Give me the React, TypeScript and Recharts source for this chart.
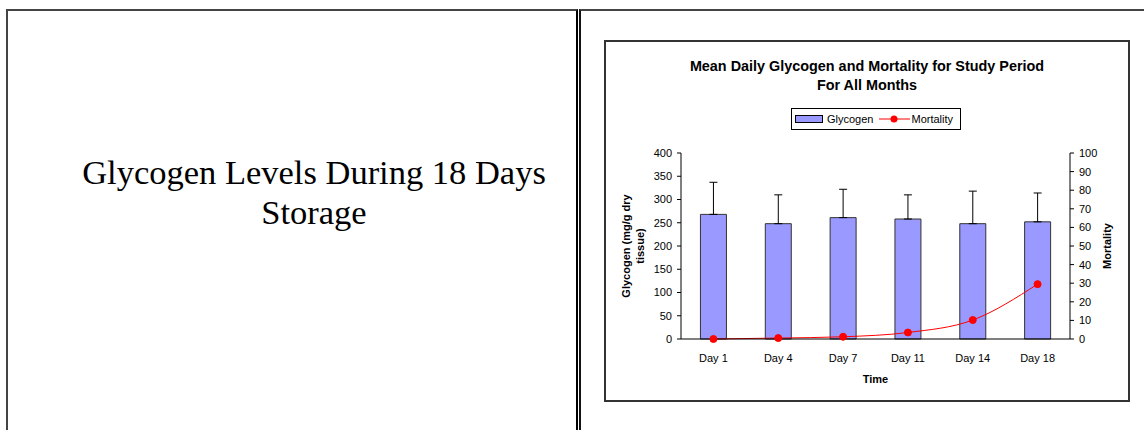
import React from 'react';
import { ComposedChart, Bar, Line, XAxis, YAxis, ErrorBar, Legend, Label } from 'recharts';

const days = ['Day 1', 'Day 4', 'Day 7', 'Day 11', 'Day 14', 'Day 18'];
const glycogen = [268, 248, 261, 258, 248, 252];
const glycogenErr = [69, 62, 61, 52, 70, 62];
const mortality = [0, 0.5, 1.2, 3.5, 10.2, 29.5];
const glycogenTicks = [0, 50, 100, 150, 200, 250, 300, 350, 400];
const mortalityTicks = [0, 10, 20, 30, 40, 50, 60, 70, 80, 90, 100];

const data = days.map((day, i) => ({
  day,
  glycogen: glycogen[i],
  err: [0, glycogenErr[i]],
  mortality: mortality[i],
}));

const FONT = "'Liberation Sans', Arial, Helvetica, sans-serif";
const BAR = '#9999FF';
const RED = '#FF0000';

const LeftAxisLabel = () => (
  <text
    fontFamily={FONT}
    fontSize={11}
    fontWeight="bold"
    fill="#000"
    textAnchor="middle"
    transform="translate(23.5,204) rotate(-90)"
  >
    <tspan x={0} y={0}>Glycogen (mg/g dry</tspan>
    <tspan x={0} y={14}>tissue)</tspan>
  </text>
);

const RightAxisLabel = () => (
  <text
    fontFamily={FONT}
    fontSize={11}
    fontWeight="bold"
    fill="#000"
    textAnchor="middle"
    transform="translate(505,204) rotate(-90)"
  >
    Mortality
  </text>
);

const renderLegend = (props: any) => {
  const payload: any[] = props.payload || [];
  return (
    <div
      style={{
        boxSizing: 'border-box',
        width: 170,
        height: 22,
        border: '1px solid #000',
        background: '#fff',
        display: 'flex',
        alignItems: 'center',
        paddingLeft: 3,
        fontFamily: FONT,
        fontSize: 11,
        color: '#000',
        whiteSpace: 'nowrap',
      }}
    >
      {payload.map((entry: any) =>
        entry.dataKey === 'glycogen' ? (
          <span key="g" style={{ display: 'flex', alignItems: 'center' }}>
            <svg width={28} height={8} style={{ display: 'block' }}>
              <rect x={0.5} y={0.5} width={27} height={7} fill={BAR} stroke="#000" />
            </svg>
            <span style={{ marginLeft: 4 }}>{entry.value}</span>
          </span>
        ) : (
          <span key="m" style={{ display: 'flex', alignItems: 'center', marginLeft: 6 }}>
            <svg width={31} height={8} style={{ display: 'block' }}>
              <line x1={0} y1={4} x2={31} y2={4} stroke={RED} strokeWidth={1} />
              <circle cx={15} cy={4} r={3.5} fill={RED} />
            </svg>
            <span style={{ marginLeft: 1 }}>{entry.value}</span>
          </span>
        )
      )}
    </div>
  );
};

export default function App() {
  return (
    <div
      style={{
        position: 'absolute',
        left: 0,
        top: 0,
        width: 1144,
        height: 430,
        overflow: 'hidden',
        background: '#fff',
      }}
    >
      {/* left panel frame */}
      <div
        style={{
          position: 'absolute',
          left: 6,
          top: 9,
          width: 572,
          height: 500,
          boxSizing: 'border-box',
          borderTop: '2px solid #444',
          borderLeft: '2px solid #444',
          borderRight: '2px solid #000',
        }}
      />
      {/* right panel frame */}
      <div
        style={{
          position: 'absolute',
          left: 579,
          top: 9,
          width: 600,
          height: 500,
          boxSizing: 'border-box',
          borderTop: '2px solid #444',
          borderLeft: '2px solid #111',
        }}
      />
      {/* left panel text */}
      <div
        style={{
          position: 'absolute',
          left: 50,
          top: 152,
          width: 528,
          textAlign: 'center',
          fontFamily: "'Liberation Serif', 'Times New Roman', Times, serif",
          fontSize: 34.5,
          lineHeight: '40px',
          color: '#000',
          whiteSpace: 'nowrap',
        }}
      >
        Glycogen Levels During 18 Days
        <br />
        Storage
      </div>
      {/* chart box */}
      <div
        style={{
          position: 'absolute',
          left: 604,
          top: 40,
          width: 526,
          height: 362,
          boxSizing: 'border-box',
          border: '2px solid #333',
        }}
      />
      {/* title */}
      <div
        style={{
          position: 'absolute',
          left: 605,
          top: 57,
          width: 524,
          textAlign: 'center',
          fontFamily: FONT,
          fontSize: 14.4,
          fontWeight: 'bold',
          lineHeight: '19px',
          color: '#000',
          whiteSpace: 'nowrap',
        }}
      >
        Mean Daily Glycogen and Mortality for Study Period
        <br />
        For All Months
      </div>
      <div style={{ position: 'absolute', left: 606, top: 42 }}>
        <ComposedChart
          width={522}
          height={358}
          data={data}
          margin={{ top: 111, right: 0, bottom: 0, left: 0 }}
          barCategoryGap="30%"
        >
          <XAxis
            dataKey="day"
            height={61}
            tickLine={false}
            tickSize={4}
            tickMargin={11}
            axisLine={{ stroke: '#000' }}
            tick={{ fill: '#000', fontSize: 11, fontFamily: FONT }}
          >
            <Label
              value="Time"
              position="insideBottom"
              offset={17}
              style={{ fontFamily: FONT, fontSize: 11, fontWeight: 'bold', fill: '#000' }}
            />
          </XAxis>
          <YAxis
            yAxisId="left"
            orientation="left"
            width={75}
            domain={[0, 400]}
            ticks={glycogenTicks}
            interval={0}
            tickSize={4}
            tickMargin={5}
            axisLine={{ stroke: '#000' }}
            tickLine={{ stroke: '#000' }}
            tick={{ fill: '#000', fontSize: 11, fontFamily: FONT }}
          >
            <Label content={LeftAxisLabel} />
          </YAxis>
          <YAxis
            yAxisId="right"
            orientation="right"
            width={58}
            domain={[0, 100]}
            ticks={mortalityTicks}
            interval={0}
            tickSize={4}
            tickMargin={5}
            axisLine={{ stroke: '#000' }}
            tickLine={{ stroke: '#000' }}
            tick={{ fill: '#000', fontSize: 11, fontFamily: FONT }}
          >
            <Label content={RightAxisLabel} />
          </YAxis>
          <Legend
            layout="horizontal"
            verticalAlign="middle"
            align="center"
            wrapperStyle={{ top: 66, left: 185, width: 170, height: 22 }}
            content={renderLegend}
          />
          <Bar
            yAxisId="left"
            dataKey="glycogen"
            name="Glycogen"
            fill={BAR}
            stroke="#333"
            strokeWidth={1}
            isAnimationActive={false}
          >
            <ErrorBar dataKey="err" direction="y" width={4} stroke="#000" strokeWidth={1} />
          </Bar>
          <Line
            yAxisId="right"
            type="monotone"
            dataKey="mortality"
            name="Mortality"
            stroke={RED}
            strokeWidth={1}
            dot={{ r: 3.5, fill: RED, stroke: RED, strokeWidth: 1 }}
            activeDot={false}
            isAnimationActive={false}
          />
        </ComposedChart>
      </div>
    </div>
  );
}
